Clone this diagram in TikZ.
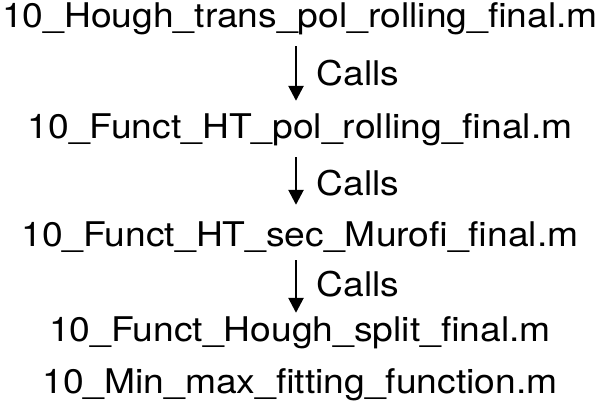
\documentclass[tikz,border=0pt]{standalone}
\usepackage{fontspec}
\setmainfont{TeX Gyre Heros}[FakeStretch=1.095]
\usetikzlibrary{arrows.meta, positioning}

\tikzset{
  file/.style = {inner sep=0pt, text height=25pt, text depth=7pt,
                 font=\fontsize{34}{40}\selectfont},
  callarrow/.style = {-{Triangle[length=15pt, width=15pt]}, line width=2.6pt,
                      shorten <=12pt, shorten >=12pt},
  callslabel/.style = {right=16pt, font=\fontsize{34}{40}\selectfont},
}

\begin{document}
\begin{tikzpicture} [x=1pt, y=-1pt, node distance = 1pt, on grid]
    \useasboundingbox (0,0) rectangle (600,410);

    \node (f1) [file] at (300,18) {10\_Hough\_trans\_pol\_rolling\_final.m};
    \node (f2) [file, below = 111pt of f1] {10\_Funct\_HT\_pol\_rolling\_final.m};
    \node (f3) [file, below = 108pt of f2] {10\_Funct\_HT\_sec\_Murofi\_final.m};
    \node (f4) [file, below = 95pt of f3] {10\_Funct\_Hough\_split\_final.m};
    \node (f5) [file, below = 52pt of f4] {10\_Min\_max\_fitting\_function.m};

    \draw[callarrow] ([xshift=-4pt]f1.south) -- node[callslabel] {Calls} ([xshift=-4pt]f2.north);
    \draw[callarrow, shorten >=16pt] ([xshift=-4pt]f2.south) -- node[callslabel] {Calls} ([xshift=-4pt]f3.north);
    \draw[callarrow, shorten <=7pt, shorten >=3pt] ([xshift=-4pt]f3.south) -- node[callslabel] {Calls} ([xshift=-4pt]f4.north);
\end{tikzpicture}
\end{document}
